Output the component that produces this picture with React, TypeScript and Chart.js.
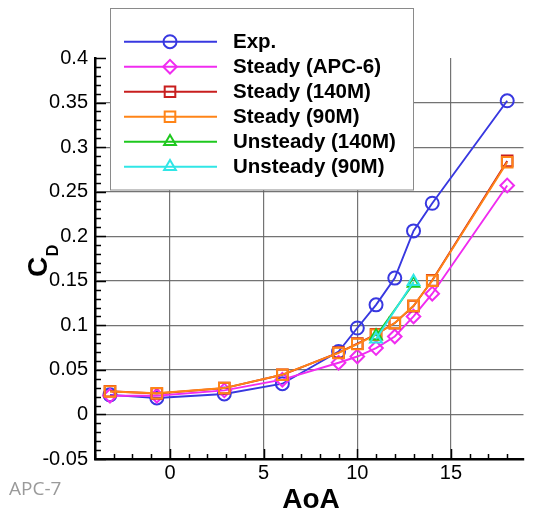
import React, { useEffect, useRef } from 'react';
import { Chart, registerables } from 'chart.js';
import { drawPoint } from 'chart.js/helpers';

Chart.register(...registerables);

// ---- data ----
const aoa = [-3.2, -0.7, 2.9, 6, 9, 10, 11, 12, 13, 14, 18];
const expCD = [0.022, 0.0185, 0.023, 0.0345, 0.0705, 0.097, 0.123, 0.153, 0.206, 0.237, 0.352];
const apc6CD = [0.021, 0.021, 0.027, 0.039, 0.058, 0.065, 0.0745, 0.0875, 0.11, 0.1355, 0.257];
const steady140CD = [0.026, 0.0235, 0.0295, 0.0445, 0.0695, 0.0795, 0.09, 0.1025, 0.1215, 0.1505, 0.2845];
const steady90CD = [0.0258, 0.0238, 0.0296, 0.0446, 0.069, 0.079, 0.0895, 0.1026, 0.122, 0.15, 0.283];
const unsteadyAoa = [11, 13];
const unsteady140CD = [0.088, 0.147];
const unsteady90CD = [0.0846, 0.149];

const seriesLabels = ['Exp.', 'Steady (APC-6)', 'Steady (140M)', 'Steady (90M)', 'Unsteady (140M)', 'Unsteady (90M)'];
const seriesColors = ['#3838e0', '#f02cf0', '#c81e1e', '#ff8417', '#1ec81e', '#30e6e6'];

const xTicks = [0, 5, 10, 15];
const xTickLabels = ['0', '5', '10', '15'];
const yTicks = [-0.05, 0, 0.05, 0.1, 0.15, 0.2, 0.25, 0.3, 0.35, 0.4];
const yTickLabels = ['-0.05', '0', '0.05', '0.1', '0.15', '0.2', '0.25', '0.3', '0.35', '0.4'];

const FONT = "'Liberation Sans', Arial, Helvetica, sans-serif";
const GRID = 'rgba(100,100,100,0.9)';

const pts = (xs: number[], ys: number[]) => xs.map((x, i) => ({ x, y: ys[i] }));

function ds(idx: number, data: { x: number; y: number }[], style: string, r: number) {
  return {
    label: seriesLabels[idx],
    data,
    showLine: true,
    borderColor: seriesColors[idx],
    backgroundColor: 'rgba(0,0,0,0)',
    borderWidth: 1.9,
    pointStyle: style,
    pointRadius: r,
    pointHoverRadius: r,
    pointBorderWidth: 2,
    pointBorderColor: seriesColors[idx],
    pointBackgroundColor: 'rgba(0,0,0,0)',
    order: 6 - idx,
  };
}

const decorPlugin = {
  id: 'decor',
  beforeDatasetsDraw(chart: any) {
    const { ctx, chartArea, scales } = chart;
    const xs = scales.x;
    const ys = scales.y;
    ctx.save();
    ctx.strokeStyle = '#000';
    ctx.lineWidth = 1.5;
    // y ticks (inward)
    for (let i = 0; i <= 45; i++) {
      const v = -0.05 + i * 0.01;
      const py = Math.round(ys.getPixelForValue(v)) + 0.5;
      const len = i % 5 === 0 ? 11 : 6;
      ctx.beginPath();
      ctx.moveTo(chartArea.left, py);
      ctx.lineTo(chartArea.left + len, py);
      ctx.stroke();
    }
    // x ticks (inward)
    for (let v = -4; v <= 18; v++) {
      const px = Math.round(xs.getPixelForValue(v)) + 0.5;
      const len = v % 5 === 0 ? 10 : 5;
      ctx.beginPath();
      ctx.moveTo(px, chartArea.bottom);
      ctx.lineTo(px, chartArea.bottom - len);
      ctx.stroke();
    }
    ctx.restore();
  },
  afterDraw(chart: any) {
    const { ctx } = chart;
    ctx.save();
    // legend box
    const lx = 110.5, ly = 8.5, lw = 303, lh = 181.5;
    ctx.fillStyle = '#fff';
    ctx.fillRect(lx, ly, lw, lh);
    ctx.strokeStyle = '#8a8a8a';
    ctx.lineWidth = 1;
    ctx.strokeRect(lx, ly, lw, lh);
    chart.data.datasets.forEach((d: any, i: number) => {
      const y = 41.7 + 25 * i;
      ctx.strokeStyle = d.borderColor;
      ctx.lineWidth = 1.9;
      ctx.beginPath();
      ctx.moveTo(124, y);
      ctx.lineTo(217, y);
      ctx.stroke();
      ctx.fillStyle = 'rgba(0,0,0,0)';
      ctx.lineWidth = 2;
      drawPoint(ctx, { pointStyle: d.pointStyle, radius: d.pointRadius, borderWidth: 2, rotation: 0 } as any, 170, y);
      ctx.fillStyle = '#000';
      ctx.font = `bold 20.5px ${FONT}`;
      ctx.textAlign = 'left';
      ctx.textBaseline = 'middle';
      ctx.fillText(d.label, 233, y + 1);
    });

    // y title C_D (rotated)
    ctx.save();
    ctx.translate(46.5, 277);
    ctx.rotate(-Math.PI / 2);
    ctx.fillStyle = '#000';
    ctx.textAlign = 'left';
    ctx.textBaseline = 'alphabetic';
    ctx.font = `bold 28px ${FONT}`;
    ctx.fillText('C', 0, 0);
    const cw = ctx.measureText('C').width;
    ctx.font = `bold 16px ${FONT}`;
    ctx.fillText('D', cw + 0.5, 11);
    ctx.restore();

    // x title
    ctx.fillStyle = '#000';
    ctx.font = `bold 28px ${FONT}`;
    ctx.textAlign = 'center';
    ctx.textBaseline = 'alphabetic';
    ctx.fillText('AoA', 311, 508);

    // corner label
    ctx.fillStyle = '#9a9a9a';
    ctx.font = `19px 'Open Sans', 'Noto Sans', sans-serif`;
    ctx.textAlign = 'left';
    ctx.fillText('APC-7', 9, 495);
    ctx.restore();
  },
};

export default function App() {
  const ref = useRef<HTMLCanvasElement>(null);
  useEffect(() => {
    const canvas = ref.current!;
    const chart = new Chart(canvas, {
      type: 'scatter',
      data: {
        datasets: [
          ds(0, pts(aoa, expCD), 'circle', 6.5),
          ds(1, pts(aoa, apc6CD), 'rectRot', 6.8),
          ds(2, pts(aoa, steady140CD), 'rect', 7.5),
          ds(3, pts(aoa, steady90CD), 'rect', 7.5),
          ds(4, pts(unsteadyAoa, unsteady140CD), 'triangle', 6.8),
          ds(5, pts(unsteadyAoa, unsteady90CD), 'triangle', 6.8),
        ] as any,
      },
      options: {
        responsive: false,
        animation: false,
        devicePixelRatio: 1,
        layout: { padding: { top: 58, left: 0, right: 0, bottom: 0 } },
        plugins: {
          legend: { display: false },
          tooltip: { enabled: false },
          title: { display: false },
        },
        events: [],
        scales: {
          x: {
            type: 'linear',
            min: -4,
            max: 18.87,
            afterBuildTicks: (s: any) => {
              s.ticks = xTicks.map((v) => ({ value: v }));
            },
            afterFit: (s: any) => {
              s.height = 57;
              s.paddingLeft = 0;
              s.paddingRight = 0;
            },
            ticks: {
              padding: 2,
              color: '#000',
              font: { family: FONT, size: 20 },
              maxRotation: 0,
              autoSkip: false,
              callback: (_v: any, i: number) => xTickLabels[i],
            },
            grid: { color: GRID, lineWidth: 1.2, drawTicks: false },
            border: { display: true, color: '#000', width: 2.5 },
          },
          y: {
            type: 'linear',
            min: -0.05,
            max: 0.4,
            afterBuildTicks: (s: any) => {
              s.ticks = yTicks.map((v) => ({ value: v }));
            },
            afterFit: (s: any) => {
              s.width = 95;
              s.paddingTop = 0;
              s.paddingBottom = 0;
            },
            ticks: {
              padding: 7,
              color: '#000',
              font: { family: FONT, size: 20 },
              autoSkip: false,
              callback: (_v: any, i: number) => yTickLabels[i],
            },
            grid: {
              color: (c: any) => (c.tick && c.tick.value > 0.39 ? 'rgba(0,0,0,0)' : GRID),
              lineWidth: 1.2,
              drawTicks: false,
            },
            border: { display: true, color: '#000', width: 2.5 },
          },
        },
      } as any,
      plugins: [decorPlugin],
    });
    return () => chart.destroy();
  }, []);
  return (
    <div style={{ position: 'fixed', left: 0, top: 0, width: 533, height: 516, background: '#fff', overflow: 'hidden' }}>
      <canvas ref={ref} width={533} height={516} style={{ width: 533, height: 516, display: 'block' }} />
    </div>
  );
}
